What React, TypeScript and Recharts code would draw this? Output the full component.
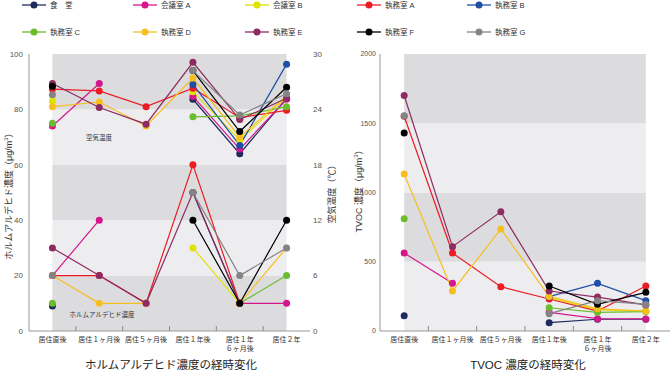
import React from "react";
import { LineChart, Line, XAxis, YAxis, ReferenceArea } from "recharts";

const categories = ["居住直後", "居住１ヶ月後", "居住５ヶ月後", "居住１年後", "居住１年\n６ヶ月後", "居住２年"];

const rooms = ["食　堂", "会議室 A", "会議室 B", "執務室 A", "執務室 B", "執務室 C", "執務室 D", "執務室 E", "執務室 F", "執務室 G"];
const roomColors = ["#1f2b5e", "#d6168c", "#e2e200", "#ec1c24", "#1f4ea6", "#6abd2c", "#f6bf1f", "#8e2b60", "#000000", "#848484"];

// ホルムアルデヒド濃度 (μg/m³), room order as above
const hchoValues: (number | null)[][] = [
  [9, null, null, 50, 10, null],
  [20, 40, null, null, 10, 10],
  [null, null, null, 30, 10, null],
  [20, 20, 10, 60, 10, null],
  [null, null, null, null, null, null],
  [10, null, null, null, 10, 20],
  [20, 10, 10, null, 10, 30],
  [30, 20, 10, 50, 10, null],
  [null, null, null, 40, 10, 40],
  [20, null, null, 50, 20, 30],
];

// 空気温度 (°C)
const tempValues: (number | null)[][] = [
  [null, null, null, 25.1, 19.2, 25.2],
  [22.2, 26.8, null, 25.4, 19.7, 25.1],
  [24.9, null, null, 25.9, 20.7, 25.3],
  [26.2, 26.0, 24.3, 26.3, 23.1, 23.9],
  [null, null, null, 26.7, 20.1, 28.9],
  [22.5, null, null, 23.2, 23.3, 24.3],
  [24.3, 24.8, 22.2, 27.4, 21.0, 25.5],
  [26.8, 24.2, 22.4, 29.1, 22.9, 25.2],
  [26.5, null, null, 28.2, 21.6, 26.4],
  [25.6, null, null, 28.2, 23.4, 25.7],
];

// TVOC 濃度 (μg/m³)
const tvocValues: (number | null)[][] = [
  [110, null, null, 60, 85, 85],
  [563, 344, null, 135, 89, 87],
  [null, null, null, 240, 152, 145],
  [1550, 563, 320, 231, 144, 325],
  [null, null, null, 248, 344, 219],
  [811, null, null, 168, 135, 140],
  [1134, 289, 736, 250, 160, 144],
  [1700, 609, 861, 289, 245, 188],
  [1430, null, null, 325, 193, 279],
  [1555, null, null, 125, 219, 192],
];

const hchoTicks = [0, 20, 40, 60, 80, 100];
const tempTicks = [0, 6, 12, 18, 24, 30];
const tvocTicks = [0, 500, 1000, 1500, 2000];

const leftData = categories.map((cat, i) => {
  const row: Record<string, any> = { cat };
  rooms.forEach((_, k) => {
    row["h" + k] = hchoValues[k][i];
    row["t" + k] = tempValues[k][i];
  });
  return row;
});

const rightData = categories.map((cat, i) => {
  const row: Record<string, any> = { cat };
  rooms.forEach((_, k) => {
    row["v" + k] = tvocValues[k][i];
  });
  return row;
});

const FONT = "'Liberation Sans', 'Noto Sans CJK JP', sans-serif";
const DARK = "#dcdcdf";
const LIGHT = "#ededf0";
const LEFT_BW = 281 / 6;
const RIGHT_BW = 290 / 6;

function CatTick(props: any) {
  const { x, y, payload, index, bw } = props;
  const lines = String(payload.value).split("\n");
  return (
    <g>
      {index > 0 && (
        <line x1={x - bw / 2} x2={x - bw / 2} y1={y - 5} y2={y} stroke="#8a8a8a" strokeWidth={1} />
      )}
      <text x={x} y={y + 11} textAnchor="middle" fontSize={7} fill="#333" fontFamily={FONT}>
        {lines.map((l, i) => (
          <tspan key={i} x={x} dy={i === 0 ? 0 : 9}>
            {l}
          </tspan>
        ))}
      </text>
    </g>
  );
}

function dotStyle(color: string) {
  return { r: 3.5, fill: color, stroke: color, strokeWidth: 0 };
}

function Legend() {
  const cols = [22, 133, 245, 357, 467];
  return (
    <g fontFamily={FONT}>
      {rooms.map((r, k) => {
        const x0 = cols[k % 5];
        const y = k < 5 ? 5 : 32;
        return (
          <g key={r}>
            <line x1={x0} x2={x0 + 24} y1={y} y2={y} stroke={roomColors[k]} strokeWidth={1.3} />
            <circle cx={x0 + 12} cy={y} r={3.5} fill={roomColors[k]} />
            <text x={x0 + 28} y={y + 3} fontSize={7.5} fill="#333">
              {r}
            </text>
          </g>
        );
      })}
    </g>
  );
}

export default function App() {
  return (
    <div style={{ position: "absolute", left: 0, top: 0, width: 670, height: 372, background: "#fff", overflow: "hidden" }}>
      <div style={{ position: "absolute", left: 0, top: 0 }}>
        <LineChart width={340} height={372} data={leftData} margin={{ top: 54, right: 0, bottom: 0, left: 0 }}>
          <XAxis
            dataKey="cat"
            height={41}
            interval={0}
            padding={{ left: LEFT_BW / 2, right: LEFT_BW / 2 }}
            tickSize={0}
            tickMargin={0}
            tickLine={false}
            axisLine={{ stroke: "#999" }}
            tick={(p: any) => <CatTick {...p} bw={LEFT_BW} />}
          />
          <YAxis
            yAxisId="left"
            width={29}
            domain={[0, 100]}
            ticks={hchoTicks}
            tickSize={0}
            tickMargin={6}
            axisLine={{ stroke: "#999" }}
            tick={{ fontSize: 8, fill: "#555", fontFamily: FONT }}
          />
          <YAxis
            yAxisId="right"
            orientation="right"
            width={30}
            domain={[0, 30]}
            ticks={tempTicks}
            tickSize={0}
            tickMargin={3}
            axisLine={false}
            tick={{ fontSize: 8, fill: "#555", fontFamily: FONT }}
          />
          <ReferenceArea yAxisId="left" y1={0} y2={20} fill={DARK} fillOpacity={1} stroke="none" />
          <ReferenceArea yAxisId="left" y1={20} y2={40} fill={LIGHT} fillOpacity={1} stroke="none" />
          <ReferenceArea yAxisId="left" y1={40} y2={60} fill={DARK} fillOpacity={1} stroke="none" />
          <ReferenceArea yAxisId="left" y1={60} y2={80} fill={LIGHT} fillOpacity={1} stroke="none" />
          <ReferenceArea yAxisId="left" y1={80} y2={100} fill={DARK} fillOpacity={1} stroke="none" />
          {rooms.map((r, k) => (
            <Line
              key={"t" + k}
              yAxisId="right"
              dataKey={"t" + k}
              stroke={roomColors[k]}
              strokeWidth={1.2}
              dot={dotStyle(roomColors[k])}
              activeDot={false}
              isAnimationActive={false}
            />
          ))}
          {rooms.map((r, k) => (
            <Line
              key={"h" + k}
              yAxisId="left"
              dataKey={"h" + k}
              stroke={roomColors[k]}
              strokeWidth={1.2}
              dot={dotStyle(roomColors[k])}
              activeDot={false}
              isAnimationActive={false}
            />
          ))}
        </LineChart>
      </div>
      <div style={{ position: "absolute", left: 340, top: 0 }}>
        <LineChart width={330} height={372} data={rightData} margin={{ top: 54, right: 0, bottom: 0, left: 0 }}>
          <XAxis
            dataKey="cat"
            height={41}
            interval={0}
            padding={{ left: RIGHT_BW / 2, right: RIGHT_BW / 2 }}
            tickSize={0}
            tickMargin={0}
            tickLine={false}
            axisLine={{ stroke: "#999" }}
            tick={(p: any) => <CatTick {...p} bw={RIGHT_BW} />}
          />
          <YAxis
            width={40}
            domain={[0, 2000]}
            ticks={tvocTicks}
            tickSize={0}
            tickMargin={4}
            axisLine={{ stroke: "#999" }}
            tick={{ fontSize: 7, fill: "#555", fontFamily: FONT }}
          />
          <ReferenceArea y1={0} y2={500} fill={LIGHT} fillOpacity={1} stroke="none" />
          <ReferenceArea y1={500} y2={1000} fill={DARK} fillOpacity={1} stroke="none" />
          <ReferenceArea y1={1000} y2={1500} fill={LIGHT} fillOpacity={1} stroke="none" />
          <ReferenceArea y1={1500} y2={2000} fill={DARK} fillOpacity={1} stroke="none" />
          {rooms.map((r, k) => (
            <Line
              key={"v" + k}
              dataKey={"v" + k}
              stroke={roomColors[k]}
              strokeWidth={1.2}
              dot={dotStyle(roomColors[k])}
              activeDot={false}
              isAnimationActive={false}
            />
          ))}
        </LineChart>
      </div>
      <svg width={670} height={372} style={{ position: "absolute", left: 0, top: 0, pointerEvents: "none" }}>
        <Legend />
        <g fontFamily={FONT} fill="#333">
          <text x={99} y={140} fontSize={6.5} textAnchor="middle">空気温度</text>
          <text x={102} y={317} fontSize={6.5} textAnchor="middle">ホルムアルデヒド濃度</text>
          <text x={0} y={0} fontSize={9} textAnchor="middle" transform="translate(12,194) rotate(-90)">
            ホルムアルデヒド濃度（μg/m<tspan fontSize={6} dy={-4}>3</tspan><tspan dy={4}>）</tspan>
          </text>
          <text x={0} y={0} fontSize={9} textAnchor="middle" transform="translate(335,192) rotate(-90)">
            空気温度（℃）
          </text>
          <text x={0} y={0} fontSize={9} textAnchor="middle" transform="translate(362,189) rotate(-90)">
            TVOC 濃度（μg/m<tspan fontSize={6} dy={-4}>3</tspan><tspan dy={4}>）</tspan>
          </text>
          <text x={171} y={369} fontSize={11.5} textAnchor="middle" fill="#222">ホルムアルデヒド濃度の経時変化</text>
          <text x={528} y={369} fontSize={11.5} textAnchor="middle" fill="#222">TVOC 濃度の経時変化</text>
        </g>
      </svg>
    </div>
  );
}
